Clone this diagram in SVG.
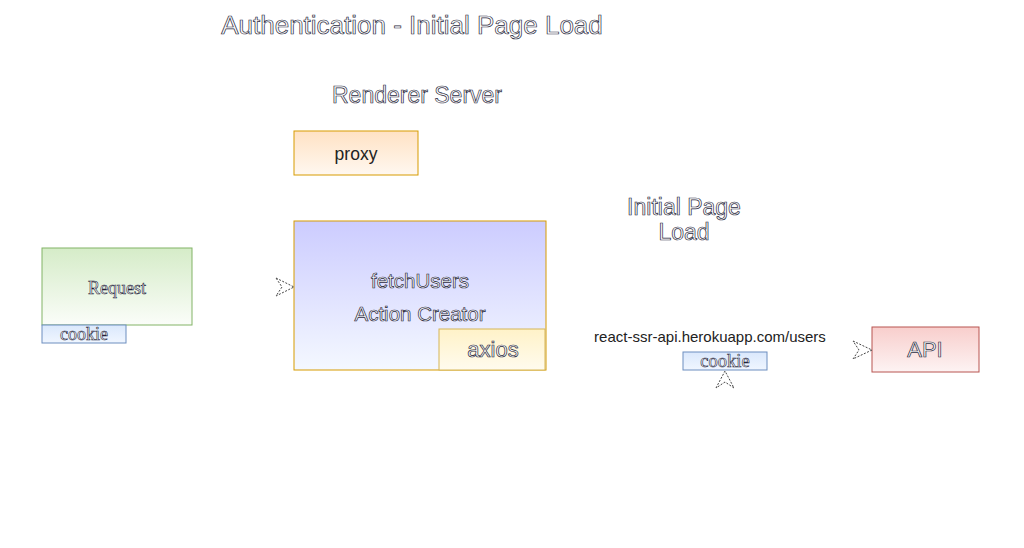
<svg xmlns="http://www.w3.org/2000/svg" width="1024" height="548" viewBox="0 0 1024 548">
<defs>
<linearGradient id="gOrange" x1="0" y1="0" x2="0" y2="1"><stop offset="0" stop-color="#ffe2c4"/><stop offset="1" stop-color="#fff8f0"/></linearGradient>
<linearGradient id="gBlue" x1="0" y1="0" x2="0" y2="1"><stop offset="0" stop-color="#ccccff"/><stop offset="1" stop-color="#f4f8ff"/></linearGradient>
<linearGradient id="gYellow" x1="0" y1="0" x2="0" y2="1"><stop offset="0" stop-color="#fff2c8"/><stop offset="1" stop-color="#fffbee"/></linearGradient>
<linearGradient id="gGreen" x1="0" y1="0" x2="0" y2="1"><stop offset="0" stop-color="#d5ecc8"/><stop offset="1" stop-color="#fbfdf9"/></linearGradient>
<linearGradient id="gCookie" x1="0" y1="0" x2="0" y2="1"><stop offset="0" stop-color="#dae8fc"/><stop offset="1" stop-color="#f0f6ff"/></linearGradient>
<linearGradient id="gRed" x1="0" y1="0" x2="0" y2="1"><stop offset="0" stop-color="#f8cecc"/><stop offset="1" stop-color="#fdf3f3"/></linearGradient>
</defs>
<style>
.t{font-family:"Liberation Sans",Arial,sans-serif;fill:#ffffff;stroke:#2a2a40;stroke-width:0.7;text-anchor:middle;dominant-baseline:central}
.s{font-family:"Liberation Serif","Times New Roman",serif;fill:#ffffff;stroke:#222238;stroke-width:0.6;text-anchor:middle;dominant-baseline:central}
.d{font-family:"Liberation Sans",Arial,sans-serif;fill:#222;text-anchor:middle;dominant-baseline:central}
.ah{fill:none;stroke:#444;stroke-width:1;stroke-dasharray:2 1.5}
</style>
<g id="title"><text class="t" x="412" y="25" font-size="26">Authentication - Initial Page Load</text></g>
<g id="renderer-label"><text class="t" x="417" y="95" font-size="23">Renderer Server</text></g>
<g id="proxy"><rect x="294" y="131" width="124" height="44" fill="url(#gOrange)" stroke="#d79b00"/><text class="d" x="356" y="154" font-size="17.5">proxy</text></g>
<g id="fetchUsers"><rect x="294" y="221" width="252" height="149" fill="url(#gBlue)" stroke="#d79b00"/><text class="t" x="420" y="280" font-size="20.5">fetchUsers</text><text class="t" x="420" y="313" font-size="20.5">Action Creator</text></g>
<g id="axios"><rect x="439" y="329" width="106" height="41" fill="url(#gYellow)" stroke="#d6b656"/><text class="t" x="493" y="349" font-size="22">axios</text></g>
<g id="request"><rect x="42" y="248" width="150" height="77" fill="url(#gGreen)" stroke="#82b366"/><text class="s" x="117" y="288" font-size="18">Request</text></g>
<g id="cookie1"><rect x="42" y="325" width="84" height="18" fill="url(#gCookie)" stroke="#6c8ebf"/><text class="s" x="84" y="334" font-size="18">cookie</text></g>
<g id="initial-label"><text class="t" x="684" y="207" font-size="23">Initial Page</text><text class="t" x="684" y="232" font-size="23">Load</text></g>
<g id="url-label"><text class="d" x="710" y="336" font-size="15">react-ssr-api.herokuapp.com/users</text></g>
<g id="cookie2"><rect x="683" y="352" width="84" height="18" fill="url(#gCookie)" stroke="#6c8ebf"/><text class="s" x="725" y="361" font-size="18.5">cookie</text></g>
<g id="api"><rect x="872" y="327" width="107" height="45" fill="url(#gRed)" stroke="#b85450"/><text class="t" x="925" y="349" font-size="22">API</text></g>
<g id="connectors">
<path class="ah" d="M276 278 L294 287 L276 296 L282 287 Z"/>
<path class="ah" d="M853 341 L872 350 L853 359 L859 350 Z"/>
<path class="ah" d="M716 388 L725 371 L734 388 L725 382 Z"/>
</g>
</svg>
